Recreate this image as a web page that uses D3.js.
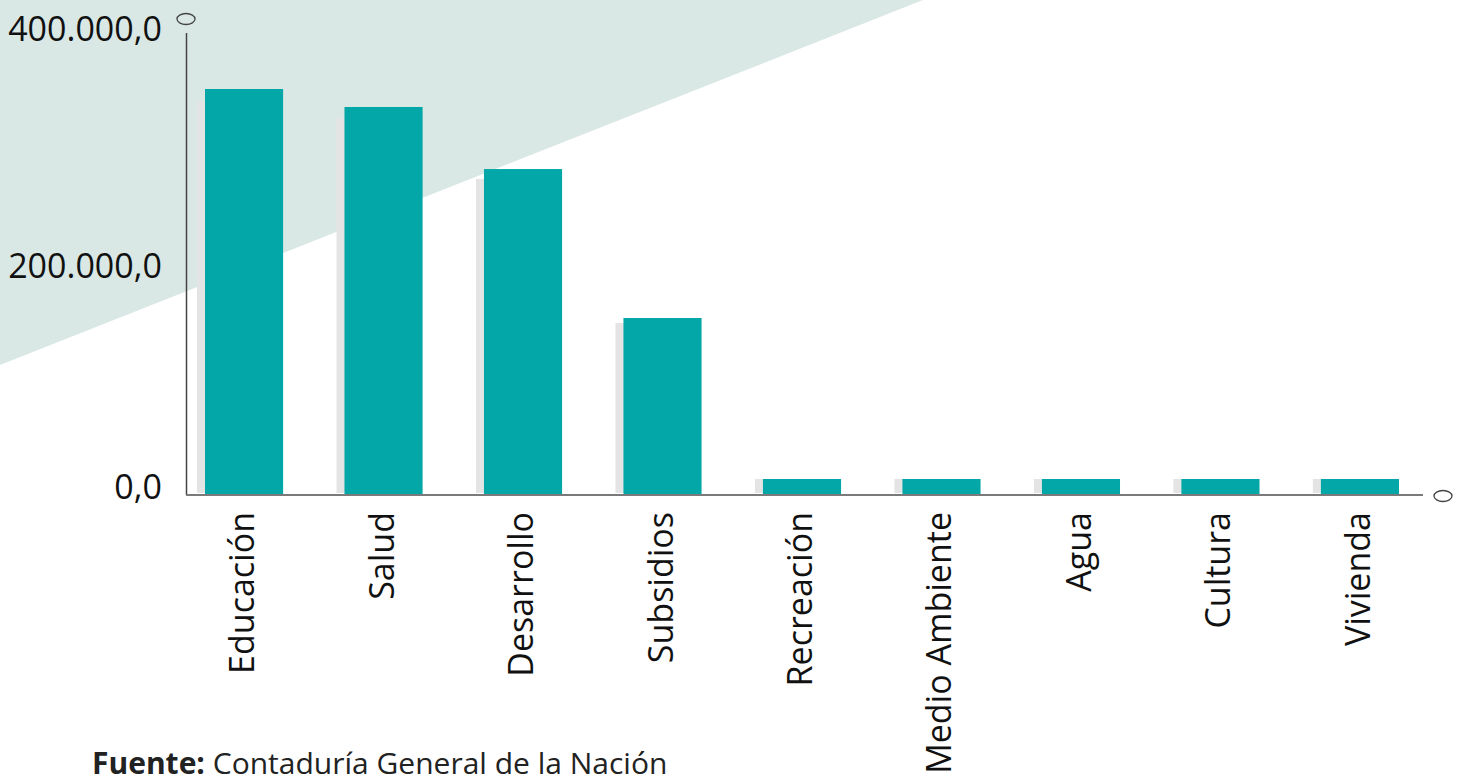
<!DOCTYPE html>
<html>
<head>
<meta charset="utf-8">
<script src="https://cdn.jsdelivr.net/npm/d3@7"></script>
<style>
    html, body { margin: 0; padding: 0; background: #ffffff; }
    svg { display: block; }
</style>
</head>
<body>
<div id="chart"></div>
<script>
    // data
    const categories = ["Educación", "Salud", "Desarrollo", "Subsidios", "Recreación", "Medio Ambiente", "Agua", "Cultura", "Vivienda"];
    const values = [353700, 338000, 283800, 153700, 13100, 13100, 13100, 13100, 13100];
    const shadowValues = [343200, 328400, 275100, 149300, 13100, 13100, 13100, 13100, 13100];
    const yTicks = [0, 200000, 400000];
    const yTickLabels = ["0,0", "200.000,0", "400.000,0"];

    const width = 1462, height = 782;

    let svg = d3.select("#chart")
        .append("svg")
        .attr("width", width)
        .attr("height", height);

    // background wedge
    svg.append("polygon")
        .attr("points", "0,0 923,0 0,365")
        .attr("fill", "#dae8e5");

    let x = d3.scaleBand()
        .domain(categories)
        .range([205, 1399])
        .paddingInner(0.44)
        .paddingOuter(0);

    let y = d3.scaleLinear()
        .domain([0, 400000])
        .range([494, 36]);

    // shadow bars, slightly to the left
    svg.append("g")
        .attr("class", "shadows")
        .selectAll("rect")
        .data(categories)
        .join("rect")
        .attr("x", (d) => x(d) - 8)
        .attr("y", (d, i) => y(shadowValues[i]))
        .attr("width", x.bandwidth())
        .attr("height", (d, i) => y(0) - 1 - y(shadowValues[i]))
        .attr("fill", "#e4e4e4");

    svg.append("g")
        .attr("class", "bars")
        .selectAll("rect")
        .data(categories)
        .join("rect")
        .attr("x", (d) => x(d))
        .attr("y", (d, i) => y(values[i]))
        .attr("width", x.bandwidth())
        .attr("height", (d, i) => y(0) - y(values[i]))
        .attr("fill", "#03a7a7");

    // axes
    svg.append("line")
        .attr("x1", 186.5).attr("x2", 186.5)
        .attr("y1", 33).attr("y2", y(0) + 1)
        .attr("stroke", "#444")
        .attr("stroke-width", 1.5);

    svg.append("line")
        .attr("x1", 186).attr("x2", 1423)
        .attr("y1", y(0) + 1).attr("y2", y(0) + 1)
        .attr("stroke", "#7a7a7a")
        .attr("stroke-width", 2);

    svg.append("ellipse")
        .attr("cx", 186).attr("cy", 19)
        .attr("rx", 9).attr("ry", 5.5)
        .attr("fill", "none")
        .attr("stroke", "#444")
        .attr("stroke-width", 1.3);

    svg.append("ellipse")
        .attr("cx", 1443).attr("cy", 496)
        .attr("rx", 9).attr("ry", 5.5)
        .attr("fill", "none")
        .attr("stroke", "#444")
        .attr("stroke-width", 1.3);

    // y tick labels
    svg.append("g")
        .attr("class", "y-labels")
        .selectAll("text")
        .data(yTicks)
        .join("text")
        .attr("x", 162)
        .attr("y", (d) => y(d) + (d > 0 && d < 400000 ? 4 : -4))
        .attr("text-anchor", "end")
        .attr("dominant-baseline", "middle")
        .style("font-family", "'Open Sans', sans-serif")
        .style("font-size", "34px")
        .attr("fill", "#111")
        .text((d, i) => yTickLabels[i]);

    // x labels
    svg.append("g")
        .attr("class", "x-labels")
        .selectAll("text")
        .data(categories)
        .join("text")
        .attr("transform", (d) => `translate(${x(d) + x.bandwidth() / 2 + 10}, 512) rotate(-90)`)
        .attr("text-anchor", "end")
        .style("font-family", "'Open Sans', sans-serif")
        .style("font-size", "34px")
        .attr("fill", "#111")
        .text((d) => d);

    // source note
    let note = svg.append("text")
        .attr("x", 92)
        .attr("y", 774)
        .style("font-family", "'Open Sans', sans-serif")
        .style("font-size", "30px")
        .attr("fill", "#222");
    note.append("tspan").style("font-weight", "bold").text("Fuente:");
    note.append("tspan").text(" Contaduría General de la Nación");
</script>
</body>
</html>
